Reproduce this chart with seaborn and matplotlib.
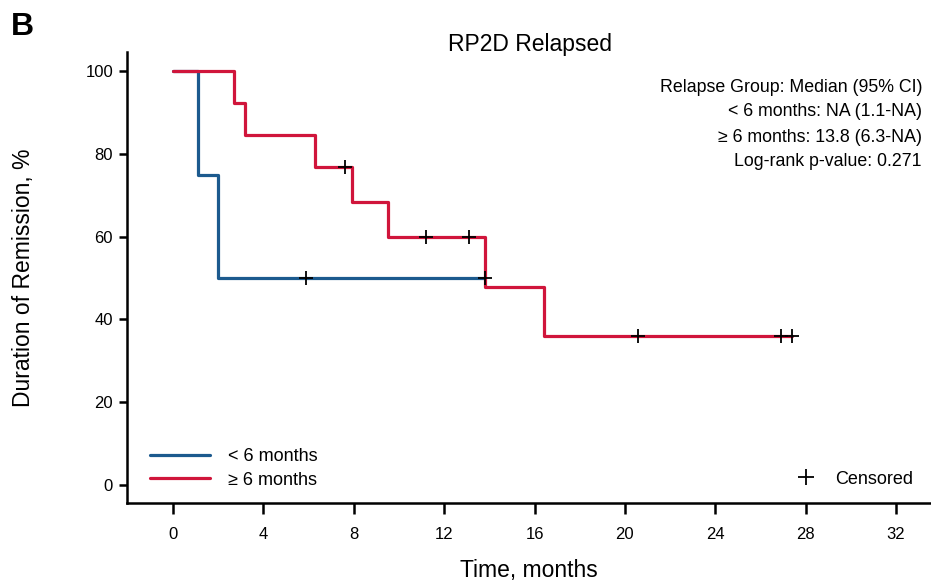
import numpy as np
import pandas as pd
import matplotlib
matplotlib.use("Agg")
import matplotlib.pyplot as plt
from matplotlib.lines import Line2D
import seaborn as sns

sns.set_style("ticks")
plt.rcParams['font.family'] = ['Liberation Sans', 'DejaVu Sans']
plt.rcParams['text.color'] = 'black'
plt.rcParams['axes.labelcolor'] = 'black'
plt.rcParams['axes.edgecolor'] = 'black'
plt.rcParams['xtick.color'] = 'black'
plt.rcParams['ytick.color'] = 'black'

# ----------------------------------------------------------
# Kaplan-Meier step data
# ----------------------------------------------------------
groups = ["< 6 months", "\u2265 6 months"]
colors = ["#1c5a8e", "#d0153b"]

short_times = [0, 1.1, 2.0, 13.8]
short_surv = [100, 75, 50, 50]
short_cens_t = [5.9, 13.8]
short_cens_s = [50, 50]

long_times = [0, 2.7, 3.2, 6.3, 7.9, 9.5, 13.8, 16.4, 27.4]
long_surv = [100, 92.3, 84.6, 76.9, 68.4, 59.8, 47.9, 35.9, 35.9]
long_cens_t = [7.6, 11.2, 13.1, 20.6, 26.9, 27.4]
long_cens_s = [76.9, 59.8, 59.8, 35.9, 35.9, 35.9]

x_ticks = [0, 4, 8, 12, 16, 20, 24, 28, 32]
y_ticks = [0, 20, 40, 60, 80, 100]

stats_lines = ["Relapse Group: Median (95% CI)",
               "< 6 months: NA (1.1-NA)",
               "\u2265 6 months: 13.8 (6.3-NA)",
               "Log-rank p-value: 0.271"]

short_df = pd.DataFrame({"Time": short_times, "Surv": short_surv})
long_df = pd.DataFrame({"Time": long_times, "Surv": long_surv})
cens_df = pd.DataFrame({"Time": short_cens_t + long_cens_t,
                        "Surv": short_cens_s + long_cens_s})

fig = plt.figure(figsize=(9.31, 5.83), dpi=100)
ax = fig.add_axes([0.1364, 0.1372, 0.8636, 0.7736])

sns.lineplot(data=short_df, x="Time", y="Surv", ax=ax, color=colors[0],
             drawstyle="steps-post", estimator=None, sort=False, linewidth=2.3)
sns.lineplot(data=long_df, x="Time", y="Surv", ax=ax, color=colors[1],
             drawstyle="steps-post", estimator=None, sort=False, linewidth=2.3)
sns.scatterplot(data=cens_df, x="Time", y="Surv", ax=ax, marker="+",
                color="black", s=110, linewidth=1.3, zorder=5)

ax.set_xlim(-2.04, 33.55)
ax.set_ylim(-4.35, 104.6)
ax.set_xticks(x_ticks)
ax.set_yticks(y_ticks)

for side in ["top", "right"]:
    ax.spines[side].set_visible(False)
for side in ["left", "bottom"]:
    ax.spines[side].set_linewidth(1.8)
ax.tick_params(axis="x", length=8, width=1.8, pad=9, labelsize=12)
ax.tick_params(axis="y", length=6, width=1.8, pad=4, labelsize=12)

ax.set_xlabel("Time, months", fontsize=16.5)
ax.set_ylabel("Duration of Remission, %", fontsize=16.5)
ax.xaxis.set_label_coords(0.5, -0.1486)
ax.xaxis.label.set_va("center")
ax.yaxis.set_label_coords(-0.129, 0.5)
ax.yaxis.label.set_va("center")

# legend for the groups
handles = [Line2D([0], [0], color=c, lw=2.3) for c in colors]
leg1 = ax.legend(handles, groups, loc="lower left", bbox_to_anchor=(0.009, -0.004),
                 frameon=False, fontsize=13, handlelength=3.3, handletextpad=1.0,
                 labelspacing=0.35)
ax.add_artist(leg1)
cens_handle = [Line2D([0], [0], color="black", marker="+", lw=0, markersize=11, mew=1.3)]
ax.legend(cens_handle, ["Censored"], loc="lower right", bbox_to_anchor=(0.998, -0.002),
          frameon=False, fontsize=13, handletextpad=0.6)

# annotation text
y_pos = [88, 112, 137, 161]
for txt, yp in zip(stats_lines, y_pos):
    fig.text(922 / 931, 1 - yp / 583, txt, ha="right", va="center", fontsize=12.8)

fig.text(0.569, 1 - 45 / 583, "RP2D Relapsed", ha="center", va="center", fontsize=16.5)
fig.text(22 / 931, 1 - 27 / 583, "B", ha="center", va="center", fontsize=23,
         fontweight="bold")

fig.savefig("out.png", dpi=100)
